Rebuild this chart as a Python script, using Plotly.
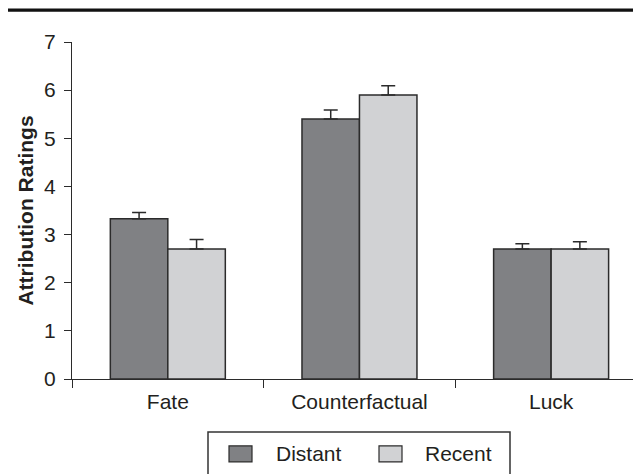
import plotly.graph_objects as go

categories = ["Fate", "Counterfactual", "Luck"]
distant = [3.33, 5.40, 2.70]
distant_err = [0.13, 0.19, 0.11]
recent = [2.70, 5.90, 2.70]
recent_err = [0.20, 0.19, 0.15]
y_ticks = [0, 1, 2, 3, 4, 5, 6, 7]
series_names = ["Distant", "Recent"]
series_colors = ["#808184", "#d1d2d4"]

font_fam = "Liberation Sans, Arial, sans-serif"
ink = "#231f20"
edge = "#2b2b2b"
OFF = 8  # default page body margin
W, H = 641 - OFF, 474 - OFF
PL, PT, PB = 72, 41.5, 379     # plot box in page pixels
PW, PHt = 641 - PL, PB - PT

fig = go.Figure()
for name, vals, errs, col in [(series_names[0], distant, distant_err, series_colors[0]),
                              (series_names[1], recent, recent_err, series_colors[1])]:
    fig.add_trace(go.Bar(
        name=name, x=categories, y=vals, showlegend=False,
        marker=dict(color=col, line=dict(color=edge, width=1.5)),
        error_y=dict(type="data", array=errs, arrayminus=[0]*len(errs), symmetric=False,
                     color=edge, thickness=1.5, width=7),
    ))

def fx(x):
    return (x - PL) / PW

def fy(y):
    return (PB - y) / PHt

shapes = [
    dict(type="line", xref="paper", yref="paper",
         x0=fx(OFF), x1=1, y0=fy(9.5), y1=fy(9.5),
         line=dict(color="#111111", width=3.2)),
    dict(type="rect", xref="paper", yref="paper",
         x0=fx(208), x1=fx(510), y0=fy(480), y1=fy(432),
         line=dict(color="#333333", width=1.5), fillcolor="rgba(0,0,0,0)"),
]
annotations = []
sw_x = [229, 379]
tx_x = [274, 423]
for i, name in enumerate(series_names):
    shapes.append(dict(type="rect", xref="paper", yref="paper",
                       x0=fx(sw_x[i]), x1=fx(sw_x[i] + 23),
                       y0=fy(462), y1=fy(446),
                       line=dict(color=edge, width=1.2), fillcolor=series_colors[i]))
    annotations.append(dict(xref="paper", yref="paper", x=fx(tx_x[i]),
                            y=fy(454), text=name, showarrow=False,
                            xanchor="left", yanchor="middle",
                            font=dict(size=21, color=ink, family=font_fam)))

fig.update_layout(
    width=W, height=H,
    margin=dict(l=PL - OFF, r=0, t=PT - OFF, b=H - (PB - OFF), pad=0, autoexpand=False),
    paper_bgcolor="white", plot_bgcolor="white",
    barmode="group", bargap=0.4, bargroupgap=0,
    font=dict(family=font_fam, size=21, color=ink),
    showlegend=False,
    shapes=shapes, annotations=annotations,
)
fig.update_xaxes(
    range=[-0.5, 2.469], showline=True, linecolor=edge, linewidth=1.2,
    ticks="outside", tickson="boundaries", ticklen=8, tickcolor=edge,
    tickfont=dict(size=21, color=ink), showgrid=False, zeroline=False,
    automargin=False, ticklabelstandoff=4,
)
fig.update_yaxes(
    range=[0, 7], tickvals=y_ticks, showline=True, linecolor=edge, linewidth=1.2,
    ticks="outside", ticklen=7, tickcolor=edge,
    tickfont=dict(size=21, color=ink), showgrid=False, zeroline=False,
    automargin=False, ticklabelstandoff=4,
    title=dict(text="<b>Attribution Ratings</b>", font=dict(size=21, color=ink), standoff=4),
)

fig.write_html("out.html")
